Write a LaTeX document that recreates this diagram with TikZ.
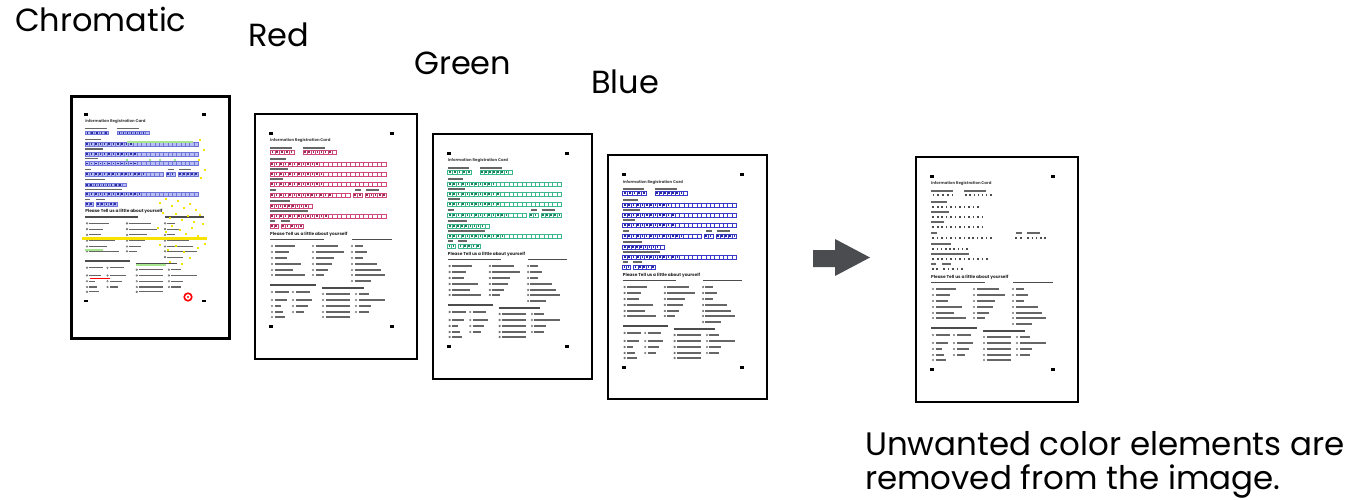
\documentclass[tikz,border=0pt]{standalone}
\usepackage{fontspec}
\setmainfont{Poppins}
\definecolor{redbox}{HTML}{D0477A}
\definecolor{greenbox}{HTML}{3DB88C}
\definecolor{bluebox}{HTML}{3A3AC8}
\definecolor{chromfill}{HTML}{B8BEF2}
\definecolor{chromline}{HTML}{6E74D8}
\definecolor{hiyellow}{HTML}{F7E200}
\definecolor{higreen}{HTML}{A6E68E}
\definecolor{arrowc}{HTML}{4A4C50}
\newif\ifshowcells
\newcommand\cellrow[4]{%
  \pgfmathtruncatemacro\ncells{round((#2-#1)/4.4)}%
  \pgfmathsetmacro\cw{(#2-#1)/\ncells}%
  \pgfmathtruncatemacro\ncellsm{\ncells-1}%
  \ifshowcells
    \draw[cellbox] (#1,#3) rectangle (#2,#3+4);
    \foreach \i in {1,...,\ncellsm}{\draw[cellbox] ({#1+\i*\cw},#3) -- ++(0,4);}
  \fi
  \foreach \i in {1,...,#4}{\fill[cellchar] ({#1+(\i-0.5)*\cw-0.8},#3+1) rectangle ++(1.6,2);}%
}
\newcommand\optitem[3]{\draw[optc] (#1,#2) circle (0.9); \draw[lbl] (#1+2.5,#2) -- ++(#3,0);}
\newcommand\formbody[1]{%
  \fill[black] (15,19) rectangle (19,22);
  \fill[black] (136,19) rectangle (140,22);
  \fill[black] (15,212) rectangle (19,215);
  \fill[black] (136,212) rectangle (140,215);
  \node[tinytitle] (#1title) at (16,29) {Information Registration Card};
  % rows
  \draw[lbl] (16,35) -- ++(22,0); \draw[lbl] (49,35) -- ++(22,0);
  \cellrow{16}{40}{37}{5}\cellrow{49}{82}{37}{7}
  \draw[lbl] (16,46) -- ++(16,0);
  \cellrow{16}{132}{49}{11}
  \draw[lbl] (16,56) -- ++(18,0);
  \cellrow{16}{132}{59}{12}
  \draw[lbl] (16,66) -- ++(13,0);
  \cellrow{16}{132}{69}{12}
  \draw[lbl] (16,77) -- ++(6,0); \draw[lbl] (101,77) -- ++(6,0); \draw[lbl] (112,77) -- ++(13,0);
  \cellrow{16}{96}{80}{14}\cellrow{99}{108}{80}{2}\cellrow{111}{132}{80}{5}
  \draw[lbl] (16,88) -- ++(20,0);
  \cellrow{16}{58}{91}{9}
  \draw[lbl] (16,98) -- ++(38,0);
  \cellrow{16}{132}{101}{13}
  \draw[lbl] (16,108) -- ++(5,0); \draw[lbl] (27,108) -- ++(9,0);
  \cellrow{16}{24}{111}{2}\cellrow{27}{49}{111}{5}
  \node[tinyhead] (#1head) at (16,122) {Please Tell us a little about yourself};
  \draw[lblq] (16,126.5) -- ++(54,0); \draw[lblq] (98,126.5) -- ++(40,0);
  \foreach \y/\wa/\wb/\wc in {133/20/22/8, 139/14/28/12, 145/12/18/8, 151/26/16/22, 157/18/12/26, 162/30/8/30}{
    \optitem{18}{\y}{\wa}\optitem{59}{\y}{\wb}\optitem{98}{\y}{\wc}}
  \optitem{98}{168}{16}
  \draw[lblq] (16,172) -- ++(46,0); \draw[lblq] (68,175) -- ++(42,0);
  \optitem{18}{179}{14}\optitem{39}{179}{14}
  \optitem{69}{181}{24}\optitem{102}{181}{10}
  \foreach \y/\wa/\wb/\wc/\wd in {187/12/16/24/26, 193/6/12/24/12, 199/8/8/24/10}{
    \optitem{18}{\y}{\wa}\optitem{39}{\y}{\wb}\optitem{69}{\y}{\wc}\optitem{102}{\y}{\wd}}
  \optitem{18}{204}{10}\optitem{69}{204}{24}
}
\tikzset{
  lab/.style={anchor=base west, inner sep=0pt, font=\fontsize{32}{34}\selectfont, text=black},
  docframe/.style={draw=black, line width=2pt, fill=white, anchor=north west, inner sep=0pt},
  tinytitle/.style={anchor=base west, inner sep=0pt, font=\fontsize{3.9}{4}\selectfont\bfseries, text=black!75},
  tinyhead/.style={anchor=base west, inner sep=0pt, font=\fontsize{4.3}{5}\selectfont\bfseries, text=black!85},
  lbl/.style={draw=black!60, line width=1.1pt},
  lblq/.style={draw=black!70, line width=1.2pt},
  optc/.style={draw=black!60, line width=0.45pt},
  cellbox/.style={draw=black, line width=0.4pt},
  cellchar/.style={fill=black!70},
}
\begin{document}
\begin{tikzpicture}[x=1pt,y=-1pt]
\useasboundingbox (0,0) rectangle (1353,500);
\fill[white] (0,0) rectangle (1353,500);
% labels
\node[lab] (lchrom) at (15,32) {Chromatic};
\node[lab] (lred) at (248,47) {Red};
\node[lab] (lgreen) at (414,75) {Green};
\node[lab] (lblue) at (591,94) {Blue};
\node[lab, font=\fontsize{32.5}{33.5}\selectfont, align=left] (lnote) at (865,489) {Unwanted color elements are\\removed from the image.};
% document frames
\node[docframe, line width=3pt, minimum width=158pt, minimum height=242pt] (dchrom) at (69.5,95) {};
\node[docframe, minimum width=162pt, minimum height=245pt] (dred) at (254,113) {};
\node[docframe, minimum width=159pt, minimum height=245pt] (dgreen) at (432,133) {};
\node[docframe, minimum width=159pt, minimum height=244pt] (dblue) at (607,154) {};
\node[docframe, minimum width=162pt, minimum height=245pt] (dout) at (915,156) {};
% chromatic content
\showcellstrue
\begin{scope}[shift={(69.5,95)}, xscale=0.975, yscale=0.965,
  cellbox/.style={draw=chromline, fill=chromfill, line width=0.4pt},
  cellchar/.style={fill=bluebox!80!black}]
  \formbody{c}
\end{scope}
% chromatic highlights
\draw[hiyellow, line width=3pt] (82,238) -- (207,238);
\draw[higreen, line width=1.8pt] (127,142) -- (193,142);
\draw[higreen, line width=1.5pt] (136,265) -- (166,265);
\draw[higreen, line width=1.5pt] (85,250) -- (103,250);
\draw[red, line width=1pt] (90,278) -- (110,278);
\foreach \p in {(127,160),(150,160),(160,160),(175,160)} \fill[higreen!70!green] \p circle (1.2);
\foreach \p in {(160,203),(166,199),(172,206),(178,201),(184,208),(190,204),(196,210),(200,215),(163,213),(170,218),(176,214),(182,220),(188,216),(194,222),(203,224),(158,228),(166,232),(172,226),(180,230),(186,234),(192,228),(198,236),(160,245),(168,250),(176,246),(184,252),(190,258),(198,248),(205,244),(170,262),(182,264),(200,140),(204,150),(199,160),(205,170),(201,178)}
  \fill[hiyellow] \p ++(-0.9,-0.7) rectangle ++(1.8,1.4);
\draw[red, line width=1.6pt] (188,297) circle (3.8);
\fill[red] (188,297) circle (1.2);
% red
\begin{scope}[shift={(254,113)},
  cellbox/.style={draw=redbox, line width=0.4pt},
  cellchar/.style={fill=redbox!70!black}]
  \formbody{r}
\end{scope}
% green
\begin{scope}[shift={(432,133)}, xscale=0.98,
  cellbox/.style={draw=greenbox, line width=0.4pt},
  cellchar/.style={fill=greenbox!65!black}]
  \formbody{g}
\end{scope}
% blue
\begin{scope}[shift={(607,154)}, xscale=0.98,
  cellbox/.style={draw=bluebox, line width=0.4pt},
  cellchar/.style={fill=bluebox!75!black}]
  \formbody{b}
\end{scope}
% output
\showcellsfalse
\begin{scope}[shift={(915,156)},
  cellchar/.style={fill=black!70}]
  \formbody{o}
\end{scope}
% arrow
\fill[arrowc] (813,250) -- (835,250) -- (835,239) -- (870,257.5) -- (835,276) -- (835,267) -- (813,267) -- cycle;
\end{tikzpicture}
\end{document}
